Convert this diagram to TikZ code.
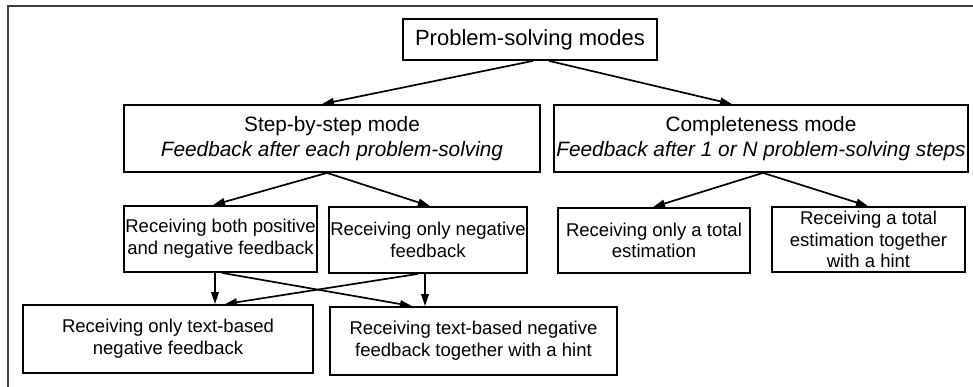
\documentclass[tikz,border=0pt]{standalone}
\usepackage{fontspec}
\setmainfont{Liberation Sans}
\usetikzlibrary{arrows.meta,calc}
\tikzset{
  box/.style={draw=black, line width=1.8pt, inner sep=0pt, align=center, anchor=center},
  small/.style={box, font=\fontsize{18.5}{21.7}\selectfont},
  mid/.style={box, font=\fontsize{20.8}{25}\selectfont},
  arr/.style={line width=1.7pt, -{Triangle[length=12pt,width=7.5pt]}},
  frame/.style={draw=black!75, line width=1.4pt}
}
\begin{document}
\begin{tikzpicture}[x=1pt,y=-1pt]
\useasboundingbox (0,0) rectangle (973,387);
\fill[white] (0,0) rectangle (973,387);
\coordinate (fa) at (8,387);
\coordinate (fb) at (8,6);
\coordinate (fc) at (973,6);
\draw[frame] (fa) -- (fb) -- (fc);

\node[box, font=\fontsize{22}{26}\selectfont, minimum width=254pt, minimum height=41pt] (top) at (530,39.5) {Problem-solving modes};
\node[mid, minimum width=416pt, minimum height=67pt] (step) at (332,138.5) {Step-by-step mode\\\itshape Feedback after each problem-solving};
\node[mid, minimum width=414pt, minimum height=67pt] (comp) at (761,138.5) {Completeness mode\\\itshape Feedback after 1 or N problem-solving steps};

\node[small, minimum width=193pt, minimum height=66pt] (pn) at (220.5,239) {Receiving both positive\\and negative feedback};
\node[small, minimum width=198pt, minimum height=66pt] (neg) at (428,240) {Receiving only negative\\feedback};
\node[small, minimum width=192pt, minimum height=65pt] (tot) at (654,240.5) {Receiving only a total\\estimation};
\node[small, minimum width=193pt, minimum height=65pt] (toth) at (868.5,239.5) {Receiving a total\\estimation together\\with a hint};

\node[small, minimum width=290pt, minimum height=68pt] (txt) at (168,339) {Receiving only text-based\\negative feedback};
\node[small, minimum width=287pt, minimum height=68pt] (txth) at (473.5,341) {Receiving text-based negative\\feedback together with a hint};

\draw[arr] ($(top.south)+(3,0)$) -- ($(step.north)+(-10,0)$);
\draw[arr] ($(top.south)+(19,0)$) -- ($(comp.north)+(-29,0)$);

\draw[arr] ($(step.south)+(-5,0)$) -- ($(pn.north)+(-7.5,0)$);
\draw[arr] ($(step.south)+(-5,0)$) -- ($(neg.north)+(2,0)$);

\draw[arr] ($(comp.south)+(2,0)$) -- ($(tot.north)+(-1,0)$);
\draw[arr] ($(comp.south)+(2,0)$) -- ($(toth.north)+(-0.5,0)$);

\draw[arr] ($(pn.south)+(-5.5,0)$) -- ($(txt.north)+(47,0)$);
\draw[arr] ($(pn.south)+(1.5,0)$) -- ($(txth.north)+(-61.5,0)$);
\draw[arr] ($(neg.south)+(-10,0)$) -- ($(txt.north)+(57,0)$);
\draw[arr] ($(neg.south)+(-3,0)$) -- ($(txth.north)+(-48.5,0)$);
\end{tikzpicture}
\end{document}
